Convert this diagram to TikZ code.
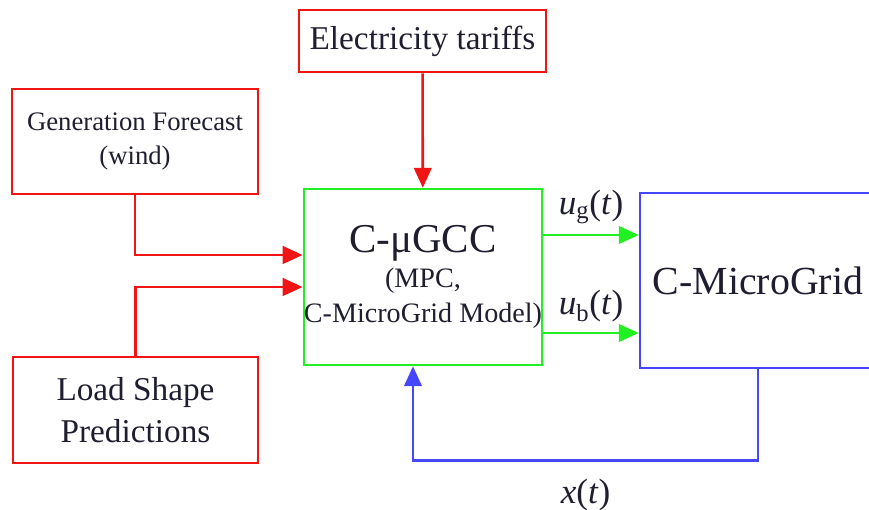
\documentclass[tikz,border=0pt]{standalone}
\usepackage{fontspec}
\setmainfont{Liberation Serif}
\usepackage{xcolor}
\usepackage{tikz}
\usetikzlibrary{arrows.meta,positioning}
\definecolor{TariffRed}{HTML}{F01414}
\definecolor{CtrlGreen}{HTML}{22F022}
\definecolor{GridBlue}{HTML}{4646FA}
\definecolor{TextInk}{HTML}{1E1E30}

\tikzset{
  inbox/.style={draw=TariffRed,line width=2.2pt,text=TextInk,align=center,inner sep=0pt},
  ctrlbox/.style={draw=CtrlGreen,line width=2.2pt,text=TextInk,align=center,inner sep=0pt},
  gridbox/.style={draw=GridBlue,line width=2.2pt,text=TextInk,align=center,inner sep=0pt},
  redline/.style={draw=TariffRed,line width=2.2pt,->},
  greenline/.style={draw=CtrlGreen,line width=2.2pt,->},
  blueline/.style={draw=GridBlue,line width=2.2pt,->},
  siglabel/.style={text=TextInk,font=\fontsize{30}{34}\selectfont}
}

\begin{document}
\begin{tikzpicture}[x=0.03cm,y=-0.03cm,>={Triangle[length=17pt,width=15pt]}]
	\useasboundingbox (0,0) rectangle (869,510);
	\node[inbox,minimum width=7.41cm,minimum height=1.86cm,font=\fontsize{28.4}{34}\selectfont] (tariff) at (422.5,41) {Electricity tariffs};
	\node[inbox,minimum width=7.38cm,minimum height=3.15cm,font=\fontsize{22.8}{29}\selectfont] (gen) at (135,141.5) {Generation Forecast\\(wind)};
	\node[inbox,minimum width=7.35cm,minimum height=3.18cm,font=\fontsize{28.4}{35.5}\selectfont] (load) at (135.5,410) {Load Shape\\Predictions};
	\node[ctrlbox,minimum width=7.14cm,minimum height=5.28cm,font=\fontsize{24}{30}\selectfont] (ctrl) at (423,277) {{\fontsize{35}{30}\selectfont C-μGCC}\\(MPC,\\C-MicroGrid Model)};
	\node[gridbox,minimum width=7.08cm,minimum height=5.25cm,font=\fontsize{34}{40}\selectfont] (grid) at (758,280.5) {C-MicroGrid};
	% inputs to the controller
	\draw[redline] (tariff) -- (ctrl);
	\draw[redline] (gen.south) |- ([yshift=0.66cm]ctrl.west);
	\draw[redline] (load.north) |- ([yshift=-0.3cm]ctrl.west);
	% control signals
	\coordinate (ugout) at ([yshift=1.26cm]ctrl.east);
	\coordinate (ubout) at ([yshift=-1.68cm]ctrl.east);
	\draw[greenline] (ugout) -- (ugout -| grid.west) node[siglabel,midway,above=5pt] {\textit{u}\textsubscript{g}(\textit{t})};
	\draw[greenline] (ubout) -- (ubout -| grid.west) node[siglabel,midway,above=5pt] {\textit{u}\textsubscript{b}(\textit{t})};
	% state feedback
	\draw[blueline] (grid.south) -- ++(0,91) -| ([xshift=-0.3cm]ctrl.south) node[siglabel,pos=0.25,below=12pt] {\textit{x}(\textit{t})};
\end{tikzpicture}
\end{document}
